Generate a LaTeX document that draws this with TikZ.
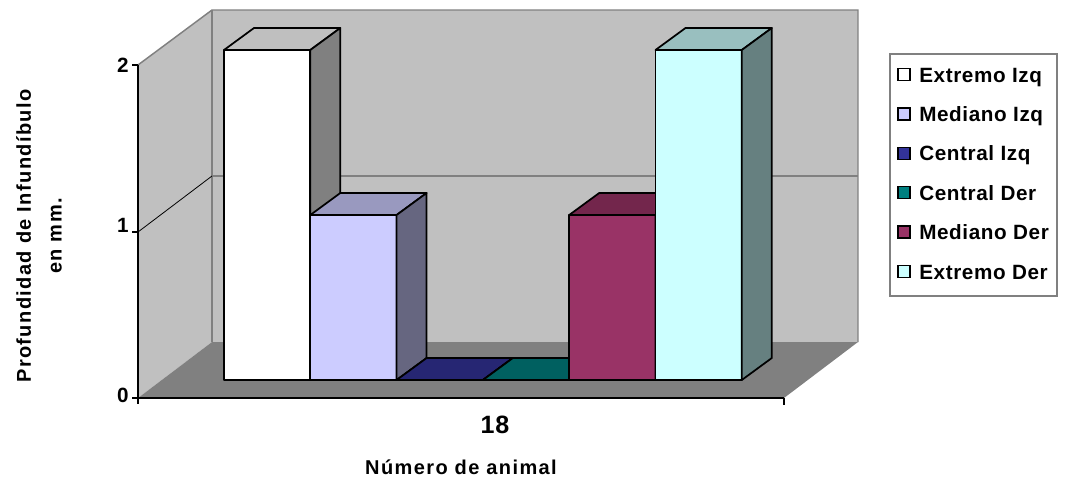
\documentclass[tikz,border=0pt]{standalone}
\usepackage{fontspec}
\setmainfont{Liberation Sans}[LetterSpace=3]
\newfontfamily\axisfont{Liberation Sans}[LetterSpace=7]
\definecolor{extremoizq}{HTML}{FFFFFF}
\definecolor{medianoizq}{HTML}{CCCCFF}
\definecolor{centralizq}{HTML}{333399}
\definecolor{centralder}{HTML}{008080}
\definecolor{medianoder}{HTML}{993366}
\definecolor{extremoder}{HTML}{CCFFFF}
\definecolor{wallgray}{HTML}{C0C0C0}
\definecolor{floorgray}{HTML}{808080}

\begin{document}
\begin{tikzpicture}[x=0.75pt,y=-0.75pt,
    wallline/.style={draw=floorgray,line width=1.1pt},
    barline/.style={draw=black,line width=1.3pt,line join=round},
    ticklabel/.style={font=\bfseries\fontsize{15.5}{17}\selectfont,anchor=east,inner sep=0pt},
    legsq/.style={draw=black,line width=1pt,minimum size=9pt,inner sep=0pt},
    legtext/.style={font=\bfseries\fontsize{15.5}{17}\selectfont,anchor=base west,inner sep=0pt}]
\useasboundingbox (0,0) rectangle (1066,478);

% walls and floor
\fill[wallgray] (138,398) -- (138,65) -- (212,10) -- (212,342) -- cycle;
\fill[wallgray] (212,10) rectangle (858,342);
\fill[floorgray] (138,398) -- (212,342) -- (858,342) -- (784,398) -- cycle;
\draw[wallline] (138,65) -- (212,10) -- (858,10) -- (858,342);
\draw[wallline] (212,10) -- (212,342);
\draw[wallline] (212,176) -- (858,176);
\draw[line width=.6pt] (138,232) -- (212,176);

% axes
\draw[line width=.8pt] (132,65) -- (138,65)
    (132,232) -- (138,232)
    (132,398) -- (138,398)
    (138,65) -- (138,404);
\draw[line width=1.3pt] (138,398) -- (784,398);
\draw[line width=.8pt] (784,398) -- (784,405);
\node[ticklabel] (t2) at (129,65.5) {2};
\node[ticklabel] (t1) at (129,225)  {1};
\node[ticklabel] (t0) at (129,395)  {0};

% bars
\foreach \i/\v/\c in {0/2/extremoizq, 1/1/medianoizq, 2/0/centralizq,
                      3/0/centralder, 4/1/medianoder, 5/2/extremoder} {
  \pgfmathsetmacro\bx{224+86.3*\i}
  \pgfmathsetmacro\bh{165*\v}
  \filldraw[barline,fill=\c] (\bx,380) rectangle +(86.3,-\bh);
  \filldraw[barline,fill=\c!75!black]
      (\bx,380-\bh) -- ++(30,-22) -- ++(86.3,0) -- ++(-30,22) -- cycle;
  \filldraw[barline,fill=\c!50!black]
      (\bx+86.3,380) -- ++(0,-\bh) -- ++(30,-22) -- ++(0,\bh) -- cycle;
}

% axis titles
\node[font=\bfseries\fontsize{18.8}{22}\selectfont,anchor=base] (cat) at (495,433) {18};
\node[font=\axisfont\bfseries\fontsize{15}{17}\selectfont,anchor=base] (xtitle) at (461,474) {Número de animal};
\node[font=\axisfont\bfseries\fontsize{15}{23}\selectfont,rotate=90,align=center] (ytitle) at (39,236)
    {Profundidad de Infundíbulo\\en mm.};

% legend
\draw[draw=floorgray,line width=1pt,fill=white] (890,54) rectangle (1057,296);
\foreach \n/\c/\t in {0/extremoizq/Extremo Izq, 1/medianoizq/Mediano Izq,
                      2/centralizq/Central Izq, 3/centralder/Central Der,
                      4/medianoder/Mediano Der, 5/extremoder/Extremo Der} {
  \node[legsq,fill=\c] (sq\n) at (904,74.5+39.4*\n) {};
  \node[legtext] (lt\n) at (919,82+39.4*\n) {\t};
}
\end{tikzpicture}
\end{document}
